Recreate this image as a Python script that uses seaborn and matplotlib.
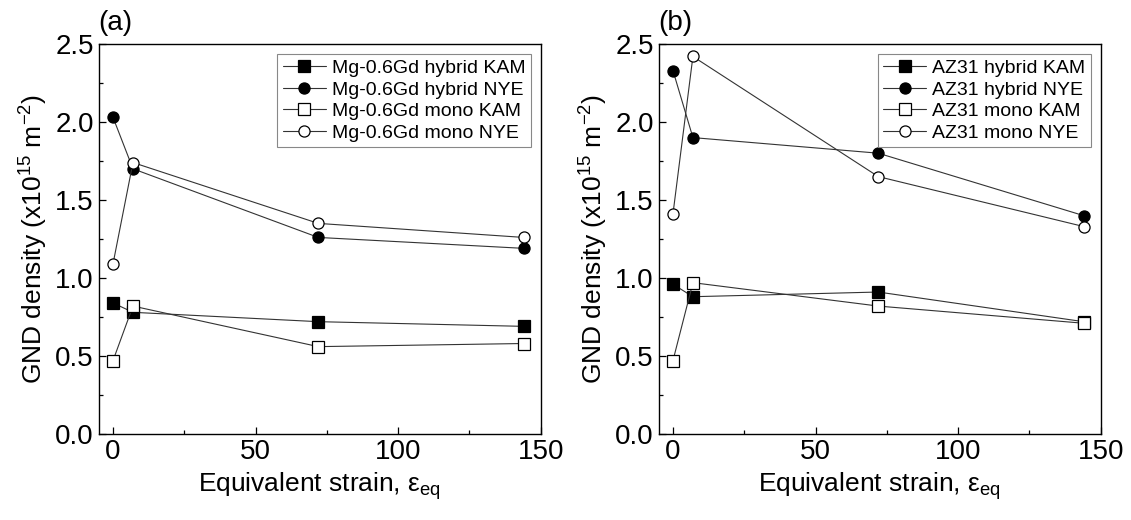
import matplotlib
matplotlib.use("Agg")
import matplotlib.pyplot as plt
import seaborn as sns
import pandas as pd

# Equivalent strain values
strain = [0, 7, 72, 144]

# Panel (a) Mg-0.6Gd
mg_hybrid_kam = [0.84, 0.78, 0.72, 0.69]
mg_hybrid_nye = [2.03, 1.70, 1.26, 1.19]
mg_mono_kam = [0.47, 0.82, 0.56, 0.58]
mg_mono_nye = [1.09, 1.74, 1.35, 1.26]

# Panel (b) AZ31
az_hybrid_kam = [0.96, 0.88, 0.91, 0.72]
az_hybrid_nye = [2.33, 1.90, 1.80, 1.40]
az_mono_kam = [0.47, 0.97, 0.82, 0.71]
az_mono_nye = [1.41, 2.42, 1.65, 1.33]

series_kinds = ["hybrid KAM", "hybrid NYE", "mono KAM", "mono NYE"]

sns.set_style("ticks")
plt.rcParams["font.family"] = ["Liberation Sans", "DejaVu Sans"]
plt.rcParams["mathtext.fontset"] = "custom"
plt.rcParams["mathtext.rm"] = "Liberation Sans"
plt.rcParams["mathtext.it"] = "Liberation Sans:italic"
for key in ["text.color", "axes.labelcolor", "xtick.color", "ytick.color", "axes.edgecolor"]:
    plt.rcParams[key] = "black"

styles = {
    "hybrid KAM": dict(marker="s", markerfacecolor="black"),
    "hybrid NYE": dict(marker="o", markerfacecolor="black"),
    "mono KAM": dict(marker="s", markerfacecolor="white"),
    "mono NYE": dict(marker="o", markerfacecolor="white"),
}

fig = plt.figure(figsize=(11.31, 5.2), dpi=100)
ax_a = fig.add_axes([0.0873, 0.1654, 0.3908, 0.75])
ax_b = fig.add_axes([0.5824, 0.1654, 0.3908, 0.75])


def draw_panel(ax, name, values, tag):
    for kind, vals in zip(series_kinds, values):
        df = pd.DataFrame({"strain": strain, "gnd": vals})
        sns.lineplot(data=df, x="strain", y="gnd", ax=ax, color="#333333",
                     linewidth=0.8, markersize=8, markeredgecolor="black",
                     markeredgewidth=0.9, label=f"{name} {kind}",
                     **styles[kind])
    ax.set_xlim(-5, 150)
    ax.set_ylim(0, 2.5)
    ax.set_xticks([0, 50, 100, 150])
    ax.set_xticks([25, 75, 125], minor=True)
    ax.set_yticks([0, 0.5, 1.0, 1.5, 2.0, 2.5])
    ax.set_yticks([0.25, 0.75, 1.25, 1.75, 2.25], minor=True)
    ax.set_yticklabels(["0.0", "0.5", "1.0", "1.5", "2.0", "2.5"])
    ax.tick_params(which="both", direction="in", labelsize=20, width=0.9)
    ax.tick_params(which="major", length=5)
    ax.tick_params(which="minor", length=3)
    for sp in ax.spines.values():
        sp.set_linewidth(1.0)
        sp.set_visible(True)
    ax.set_xlabel(r"Equivalent strain, $\mathregular{ε_{eq}}$", fontsize=19)
    ax.set_ylabel(r"GND density (x10$^{15}$ m$^{-2}$)", fontsize=19)
    ax.text(0.0, 1.02, tag, transform=ax.transAxes, fontsize=20,
            ha="left", va="bottom")
    leg = ax.legend(loc="upper right", fontsize=14, frameon=True, fancybox=False,
                    edgecolor="#888888", framealpha=1, borderpad=0.3,
                    labelspacing=0.2, handlelength=2.2, handletextpad=0.3,
                    borderaxespad=0.5)
    leg.get_frame().set_linewidth(0.8)


draw_panel(ax_a, "Mg-0.6Gd", [mg_hybrid_kam, mg_hybrid_nye, mg_mono_kam, mg_mono_nye], "(a)")
draw_panel(ax_b, "AZ31", [az_hybrid_kam, az_hybrid_nye, az_mono_kam, az_mono_nye], "(b)")

fig.savefig("out.png", dpi=100)
